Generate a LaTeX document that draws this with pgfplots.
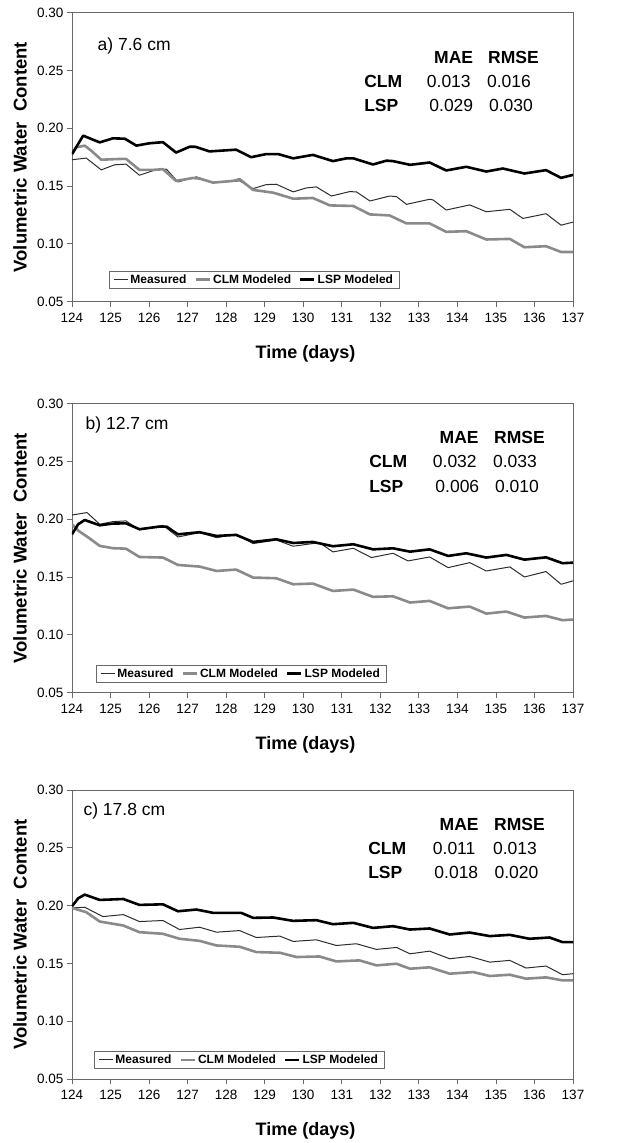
\documentclass[border=0pt]{standalone}
\usepackage{pgfplots}
\pgfplotsset{compat=1.18}
\usepackage{fontspec}
\setmainfont{Liberation Sans}

\definecolor{clmGray}{RGB}{138,138,138}
\definecolor{measGray}{RGB}{45,45,45}
\definecolor{frameGray}{RGB}{105,105,105}

\newcommand\annfont{\fontsize{17.5}{20}\selectfont}

\pgfplotsset{
  vwcpanel/.style={
    scale only axis,
    width=501pt, height=289pt,
    anchor=south west,
    xmin=124, xmax=137,
    ymin=0.05, ymax=0.30,
    xtick={124,125,126,127,128,129,130,131,132,133,134,135,136,137},
    ytick={0.05,0.10,0.15,0.20,0.25,0.30},
    scaled y ticks=false,
    /pgf/number format/assume math mode=true,
    yticklabel style={/pgf/number format/.cd, fixed, fixed zerofill, precision=2},
    xticklabel style={yshift=-3pt},
    ticklabel style={font=\fontsize{13.5}{16}\selectfont},
    tick pos=left,
    tick align=outside,
    major tick length=5pt,
    tick style={draw=frameGray, line width=0.8pt},
    axis line style={draw=frameGray, line width=0.9pt},
    xlabel={Time (days)},
    ylabel={Volumetric Water\ \ Content},
    xlabel style={at={(axis description cs:0.466,-0.181)}, anchor=center,
                  font=\bfseries\fontsize{18}{21}\selectfont},
    ylabel style={at={(axis description cs:-0.104,0.5)}, anchor=center,
                  font=\bfseries\fontsize{18.5}{21}\selectfont},
    legend columns=3,
    legend cell align=left,
    legend image code/.code={\draw[#1] (0pt,0pt) -- (14pt,0pt);},
    legend style={anchor=south west, draw=frameGray, line width=0.8pt,
                  font=\bfseries\fontsize{12}{14}\selectfont,
                  inner xsep=4pt, inner ysep=1.5pt,
                  /tikz/every even column/.append style={column sep=6pt}},
  },
  measured/.style={draw=measGray, line width=1pt, line join=round},
  clm/.style={draw=clmGray, line width=2.6pt, line join=round},
  lsp/.style={draw=black, line width=2.6pt, line join=round},
}

\begin{document}
\begin{tikzpicture}

% ---------- a) 7.6 cm ----------
\begin{axis}[vwcpanel, at={(72pt,841.3pt)},
  legend style={at={(0.074,0.045)}}]
\addplot[measured] coordinates {
  (124.0,0.1728) (124.37,0.1742) (124.76,0.1640) (125.1,0.1684) (125.4,0.1690)
  (125.75,0.1594) (126.19,0.1643) (126.45,0.1646) (126.75,0.1536) (127.23,0.1580)
  (127.66,0.1530) (128.35,0.1545) (128.7,0.1478) (129.04,0.1513) (129.3,0.1516)
  (129.74,0.1450) (130.08,0.1484) (130.34,0.1493) (130.73,0.1414) (131.2,0.1452)
  (131.38,0.1450) (131.73,0.1371) (132.24,0.1414) (132.42,0.1409) (132.68,0.1342)
  (133.28,0.1386) (133.37,0.1380) (133.71,0.1293) (134.32,0.1337) (134.75,0.1278)
  (135.36,0.1299) (135.7,0.1220) (136.3,0.1261) (136.69,0.1162) (137.0,0.1188)
};
\addlegendentry{Measured}
\addplot[clm] coordinates {
  (124.0,0.1777) (124.11,0.1835) (124.33,0.1850) (124.5,0.1806) (124.76,0.1728)
  (125.1,0.1733) (125.4,0.1736) (125.75,0.1640) (126.1,0.1640) (126.36,0.1646)
  (126.7,0.1545) (127.14,0.1570) (127.31,0.1565) (127.66,0.1530) (128.18,0.1545)
  (128.35,0.1560) (128.7,0.1467) (129.22,0.1443) (129.74,0.1391) (130.25,0.1397)
  (130.69,0.1333) (131.3,0.1328) (131.73,0.1255) (132.24,0.1246) (132.68,0.1177)
  (133.28,0.1177) (133.71,0.1104) (134.23,0.1110) (134.75,0.1038) (135.36,0.1043)
  (135.74,0.0971) (136.3,0.0980) (136.69,0.0930) (137.0,0.0930)
};
\addlegendentry{CLM Modeled}
\addplot[lsp] coordinates {
  (124.0,0.1777) (124.29,0.1936) (124.72,0.1878) (125.06,0.1913) (125.37,0.1910)
  (125.67,0.1850) (126.0,0.1870) (126.36,0.1880) (126.7,0.1790) (127.05,0.1840)
  (127.2,0.1840) (127.57,0.1800) (128.26,0.1815) (128.65,0.1750) (129.04,0.1777)
  (129.35,0.1777) (129.74,0.1740) (130.25,0.1770) (130.77,0.1716) (131.12,0.1740)
  (131.3,0.1740) (131.81,0.1687) (132.16,0.1720) (132.33,0.1716) (132.77,0.1684)
  (133.28,0.1704) (133.71,0.1635) (134.23,0.1667) (134.75,0.1626) (135.18,0.1652)
  (135.74,0.1609) (136.3,0.1638) (136.69,0.1571) (137.0,0.1597)
};
\addlegendentry{LSP Modeled}
\node[anchor=west, inner sep=0, font=\annfont] at (rel axis cs:0.051,0.886) {a) 7.6 cm};
\node[anchor=east, inner sep=0, font=\annfont\bfseries] at (rel axis cs:0.801,0.844) {MAE};
\node[anchor=east, inner sep=0, font=\annfont\bfseries] at (rel axis cs:0.932,0.844) {RMSE};
\node[anchor=west, inner sep=0, font=\annfont\bfseries] at (rel axis cs:0.583,0.761) {CLM};
\node[anchor=west, inner sep=0, font=\annfont\bfseries] at (rel axis cs:0.583,0.678) {LSP};
\node[anchor=west, inner sep=0, font=\annfont] at (rel axis cs:0.708,0.761) {0.013};
\node[anchor=west, inner sep=0, font=\annfont] at (rel axis cs:0.828,0.761) {0.016};
\node[anchor=west, inner sep=0, font=\annfont] at (rel axis cs:0.713,0.678) {0.029};
\node[anchor=west, inner sep=0, font=\annfont] at (rel axis cs:0.832,0.678) {0.030};
\end{axis}

% ---------- b) 12.7 cm ----------
\begin{axis}[vwcpanel, at={(72pt,450.3pt)},
  legend style={at={(0.048,0.035)}}]
\addplot[measured] coordinates {
  (124.0,0.2037) (124.39,0.2058) (124.72,0.1957) (125.06,0.1980) (125.4,0.1986)
  (125.75,0.1908) (126.36,0.1948) (126.75,0.1847) (127.31,0.1885) (127.75,0.1841)
  (128.26,0.1870) (128.7,0.1790) (129.3,0.1821) (129.74,0.1767) (130.42,0.1798)
  (130.77,0.1718) (131.3,0.1749) (131.77,0.1669) (132.33,0.1706) (132.72,0.1640)
  (133.28,0.1674) (133.76,0.1582) (134.32,0.1625) (134.75,0.1553) (135.36,0.1588)
  (135.74,0.1501) (136.3,0.1548) (136.69,0.1438) (137.0,0.1467)
};
\addlegendentry{Measured}
\addplot[clm] coordinates {
  (124.0,0.1957) (124.17,0.1900) (124.43,0.1841) (124.72,0.1770) (125.06,0.1750)
  (125.4,0.1746) (125.75,0.1674) (126.36,0.1669) (126.75,0.1605) (127.31,0.1591)
  (127.75,0.1553) (128.26,0.1565) (128.7,0.1496) (129.3,0.1490) (129.74,0.1438)
  (130.25,0.1444) (130.77,0.1380) (131.3,0.1392) (131.81,0.1329) (132.33,0.1334)
  (132.77,0.1280) (133.28,0.1294) (133.76,0.1230) (134.32,0.1245) (134.75,0.1184)
  (135.27,0.1202) (135.74,0.1150) (136.3,0.1164) (136.73,0.1127) (137.0,0.1133)
};
\addlegendentry{CLM Modeled}
\addplot[lsp] coordinates {
  (124.0,0.1870) (124.16,0.1957) (124.33,0.1994) (124.72,0.1948) (125.06,0.1963)
  (125.4,0.1965) (125.75,0.1914) (126.27,0.1937) (126.45,0.1937) (126.75,0.1870)
  (127.31,0.1888) (127.75,0.1856) (128.26,0.1865) (128.7,0.1804) (129.3,0.1827)
  (129.74,0.1795) (130.25,0.1804) (130.77,0.1767) (131.3,0.1784) (131.81,0.1740)
  (132.33,0.1749) (132.77,0.1720) (133.28,0.1740) (133.76,0.1683) (134.23,0.1706)
  (134.75,0.1669) (135.27,0.1692) (135.74,0.1651) (136.3,0.1671) (136.73,0.1620)
  (137.0,0.1625)
};
\addlegendentry{LSP Modeled}
\node[anchor=west, inner sep=0, font=\annfont] at (rel axis cs:0.027,0.928) {b) 12.7 cm};
\node[anchor=east, inner sep=0, font=\annfont\bfseries] at (rel axis cs:0.812,0.882) {MAE};
\node[anchor=east, inner sep=0, font=\annfont\bfseries] at (rel axis cs:0.944,0.882) {RMSE};
\node[anchor=west, inner sep=0, font=\annfont\bfseries] at (rel axis cs:0.593,0.799) {CLM};
\node[anchor=west, inner sep=0, font=\annfont\bfseries] at (rel axis cs:0.593,0.714) {LSP};
\node[anchor=west, inner sep=0, font=\annfont] at (rel axis cs:0.720,0.799) {0.032};
\node[anchor=west, inner sep=0, font=\annfont] at (rel axis cs:0.840,0.799) {0.033};
\node[anchor=west, inner sep=0, font=\annfont] at (rel axis cs:0.725,0.714) {0.006};
\node[anchor=west, inner sep=0, font=\annfont] at (rel axis cs:0.844,0.714) {0.010};
\end{axis}

% ---------- c) 17.8 cm ----------
\begin{axis}[vwcpanel, at={(72pt,64pt)},
  legend style={at={(0.044,0.035)}}]
\addplot[measured] coordinates {
  (124.0,0.1980) (124.33,0.1986) (124.8,0.1905) (125.33,0.1922) (125.75,0.1862)
  (126.36,0.1871) (126.79,0.1793) (127.31,0.1813) (127.75,0.1770) (128.35,0.1784)
  (128.78,0.1724) (129.39,0.1736) (129.74,0.1690) (130.34,0.1704) (130.86,0.1655)
  (131.38,0.1670) (131.9,0.1621) (132.42,0.1638) (132.77,0.1583) (133.28,0.1606)
  (133.8,0.1540) (134.32,0.1560) (134.84,0.1511) (135.36,0.1526) (135.78,0.1460)
  (136.3,0.1477) (136.73,0.1402) (137.0,0.1411)
};
\addlegendentry{Measured}
\addplot[clm] coordinates {
  (124.0,0.1980) (124.37,0.1943) (124.72,0.1862) (125.33,0.1828) (125.75,0.1770)
  (126.36,0.1756) (126.79,0.1713) (127.31,0.1695) (127.75,0.1655) (128.35,0.1644)
  (128.78,0.1598) (129.39,0.1592) (129.83,0.1555) (130.42,0.1560) (130.86,0.1517)
  (131.46,0.1526) (131.9,0.1483) (132.42,0.1497) (132.77,0.1454) (133.28,0.1466)
  (133.8,0.1411) (134.41,0.1425) (134.84,0.1391) (135.36,0.1402) (135.78,0.1368)
  (136.3,0.1379) (136.73,0.1353) (137.0,0.1353)
};
\addlegendentry{CLM Modeled}
\addplot[lsp] coordinates {
  (124.0,0.1994) (124.16,0.2063) (124.33,0.2095) (124.72,0.2049) (125.33,0.2057)
  (125.75,0.2006) (126.36,0.2011) (126.75,0.1951) (127.23,0.1966) (127.66,0.1937)
  (128.39,0.1937) (128.7,0.1894) (129.22,0.1897) (129.74,0.1868) (130.34,0.1874)
  (130.77,0.1839) (131.3,0.1851) (131.81,0.1807) (132.33,0.1822) (132.77,0.1793)
  (133.28,0.1802) (133.8,0.1750) (134.32,0.1767) (134.84,0.1736) (135.36,0.1747)
  (135.87,0.1713) (136.39,0.1724) (136.73,0.1684) (137.0,0.1684)
};
\addlegendentry{LSP Modeled}
\node[anchor=west, inner sep=0, font=\annfont] at (rel axis cs:0.0226,0.928) {c) 17.8 cm};
\node[anchor=east, inner sep=0, font=\annfont\bfseries] at (rel axis cs:0.812,0.882) {MAE};
\node[anchor=east, inner sep=0, font=\annfont\bfseries] at (rel axis cs:0.944,0.882) {RMSE};
\node[anchor=west, inner sep=0, font=\annfont\bfseries] at (rel axis cs:0.591,0.798) {CLM};
\node[anchor=west, inner sep=0, font=\annfont\bfseries] at (rel axis cs:0.591,0.714) {LSP};
\node[anchor=west, inner sep=0, font=\annfont] at (rel axis cs:0.720,0.798) {0.011};
\node[anchor=west, inner sep=0, font=\annfont] at (rel axis cs:0.840,0.798) {0.013};
\node[anchor=west, inner sep=0, font=\annfont] at (rel axis cs:0.723,0.714) {0.018};
\node[anchor=west, inner sep=0, font=\annfont] at (rel axis cs:0.843,0.714) {0.020};
\end{axis}

\pgfresetboundingbox
\path[use as bounding box] (0pt,0pt) rectangle (623pt,1143pt);
\end{tikzpicture}
\end{document}
